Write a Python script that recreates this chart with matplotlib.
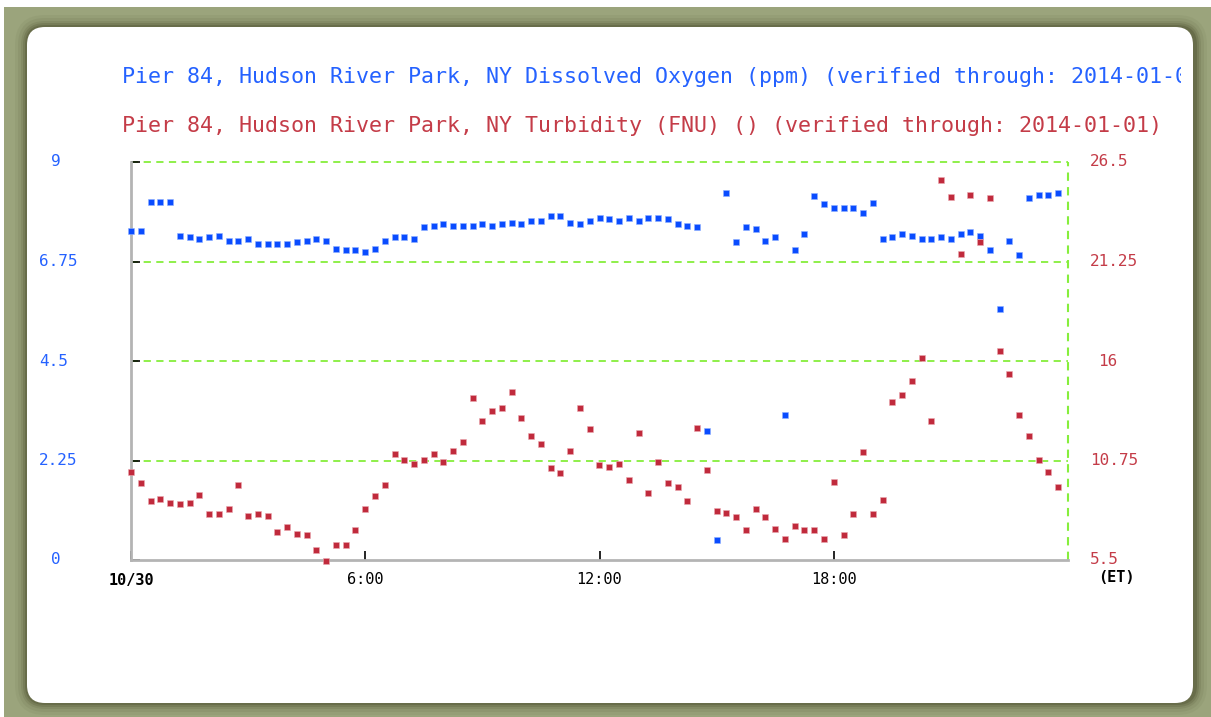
import matplotlib
matplotlib.use("Agg")
import matplotlib.pyplot as plt
from matplotlib.patches import FancyBboxPatch, Rectangle
import matplotlib.transforms as mtrans

# ---------------- data ----------------
# 15-minute readings over one day (hours since 10/30 00:00)
hours = [i * 0.25 for i in range(96)]

oxygen = [7.45, 7.45, 8.10, 8.10, 8.10, 7.33, 7.30, 7.26, 7.30, 7.33,
          7.22, 7.22, 7.26, 7.15, 7.15, 7.15, 7.15, 7.19, 7.22, 7.26,
          7.22, 7.04, 7.00, 7.00, 6.97, 7.04, 7.22, 7.30, 7.30, 7.26,
          7.52, 7.55, 7.59, 7.55, 7.55, 7.55, 7.59, 7.55, 7.59, 7.63,
          7.59, 7.67, 7.67, 7.78, 7.78, 7.63, 7.59, 7.67, 7.74, 7.71,
          7.67, 7.74, 7.67, 7.74, 7.74, 7.71, 7.59, 7.55, 7.52, 2.92,
          0.45, 8.29, 7.19, 7.52, 7.48, 7.22, 7.30, 3.29, 7.00, 7.37,
          8.22, 8.04, 7.96, 7.96, 7.96, 7.85, 8.07, 7.26, 7.30, 7.37,
          7.33, 7.26, 7.26, 7.30, 7.26, 7.37, 7.41, 7.33, 7.00, 5.68,
          7.22, 6.89, 8.18, 8.25, 8.25, 8.29]

turbidity = [10.16, 9.56, 8.61, 8.70, 8.52, 8.44, 8.52, 8.95, 7.93, 7.93,
             8.19, 9.47, 7.84, 7.93, 7.84, 6.98, 7.24, 6.89, 6.80, 6.03,
             5.45, 6.29, 6.29, 7.07, 8.19, 8.88, 9.47, 11.11, 10.76, 10.58,
             10.76, 11.11, 10.67, 11.27, 11.71, 14.03, 12.82, 13.35, 13.52, 14.38,
             12.99, 12.06, 11.62, 10.34, 10.07, 11.27, 13.52, 12.40, 10.50, 10.42,
             10.58, 9.72, 12.22, 9.04, 10.67, 9.55, 9.37, 8.61, 12.48, 10.25,
             8.09, 8.00, 7.75, 7.07, 8.17, 7.75, 7.15, 6.62, 7.31, 7.07,
             7.07, 6.62, 9.63, 6.80, 7.93, 11.18, 7.93, 8.68, 13.85, 14.19,
             14.96, 16.16, 12.82, 25.53, 24.67, 21.66, 24.76, 22.26, 24.58, 16.51,
             15.31, 13.15, 12.04, 10.76, 10.14, 9.37]

left_ticks = [0, 2.25, 4.5, 6.75, 9]
left_labels = ["0", "2.25", "4.5", "6.75", "9"]
right_ticks = [5.5, 10.75, 16, 21.25, 26.5]
right_labels = ["5.5", "10.75", "16", "21.25", "26.5"]
x_ticks = [0, 6, 12, 18]
x_labels = ["10/30", "6:00", "12:00", "18:00"]

title_do = "Pier 84, Hudson River Park, NY Dissolved Oxygen (ppm) (verified through: 2014-01-01)"
title_tb = "Pier 84, Hudson River Park, NY Turbidity (FNU) () (verified through: 2014-01-01)"

# ---------------- style ----------------
W, H = 1211, 717
BLUE = "#0a4cff"
BLUE_TXT = "#2562ff"
RED = "#c02a3c"
RED_TXT = "#c43c48"
GRID = "#86ee3c"
FONT = "DejaVu Sans Mono"

fig = plt.figure(figsize=(W / 100, H / 100), dpi=100)
fig.patch.set_facecolor("#9ba47c")

# background frame axes in pixel coordinates
bg = fig.add_axes([0, 0, 1, 1], zorder=0)
bg.set_xlim(0, W)
bg.set_ylim(H, 0)
bg.axis("off")
bg.add_patch(Rectangle((0, 0), W, 7, color="white", lw=0))
bg.add_patch(Rectangle((0, 0), 4, H, color="white", lw=0))
# soft shadow
for k, a in [(12, 0.06), (9, 0.08), (6, 0.12), (4, 0.18), (2, 0.26)]:
    bg.add_patch(FancyBboxPatch((27 - k, 27 - k), 1166 + 2 * k + 2, 676 + 2 * k,
                                boxstyle="round,pad=0,rounding_size=%d" % (18 + k),
                                fc="#3d4222", ec="none", alpha=a))
bg.add_patch(FancyBboxPatch((27, 27), 1166, 676,
                            boxstyle="round,pad=0,rounding_size=18",
                            fc="white", ec="none"))

# titles (clipped at the panel edge like the original)
tax = fig.add_axes([0, 0, 1181 / W, 1], zorder=1)
tax.set_xlim(0, 1181)
tax.set_ylim(H, 0)
tax.axis("off")
tax.text(122, 77, title_do, color=BLUE_TXT, fontsize=15.6, family=FONT,
         va="center", ha="left", clip_on=True)
tax.text(122, 126, title_tb, color=RED_TXT, fontsize=15.6, family=FONT,
         va="center", ha="left", clip_on=True)

# main axes
L, R, T, B = 131, 1068, 162, 560
ax = fig.add_axes([L / W, (H - B) / H, (R - L) / W, (B - T) / H], zorder=2)
ax.patch.set_alpha(0)
ax.set_xlim(0, 24)
ax.set_ylim(0, 9)
ax2 = ax.twinx()
ax2.set_ylim(5.5, 26.5)

for a in (ax, ax2):
    for s in ("top", "right"):
        a.spines[s].set_visible(False)
    a.spines["left"].set_visible(a is ax)
    a.spines["bottom"].set_visible(a is ax)
ax.spines["left"].set_color("#b4b4b4")
ax.spines["left"].set_linewidth(2)
ax.spines["bottom"].set_color("#b4b4b4")
ax.spines["bottom"].set_linewidth(2)

# grid
for v in left_ticks[1:]:
    ax.axhline(v, color=GRID, lw=1.3, ls=(0, (4, 3)), zorder=1, clip_on=False)
ax.axvline(24, color=GRID, lw=1.5, ls=(0, (4, 3)), zorder=1, clip_on=False)

# ticks
ax.set_yticks(left_ticks)
ax.set_yticklabels([])
ax.tick_params(axis="y", direction="in", length=6.5, width=1.2, color="black")
ax.set_xticks(x_ticks)
ax.set_xticklabels(x_labels, family=FONT, fontsize=11, color="black")
ax.get_xticklabels()[0].set_fontweight("bold")
ax.tick_params(axis="x", direction="in", length=6.5, width=1.2, color="black", pad=9)
ax2.set_yticks([])

# y tick labels as text (pixel x, data y)
tl = mtrans.blended_transform_factory(bg.transData, ax.transData)
for v, lab in zip(left_ticks, left_labels):
    x0 = 51 if "." not in lab else 39
    ax.text(x0, v, lab, transform=tl, color=BLUE_TXT, family=FONT,
            fontsize=11.5, va="center", ha="left", clip_on=False)
tr = mtrans.blended_transform_factory(bg.transData, ax2.transData)
for v, lab in zip(right_ticks, right_labels):
    x0 = 1098 if "." not in lab else 1090
    ax2.text(x0, v, lab, transform=tr, color=RED_TXT, family=FONT,
             fontsize=11.5, va="center", ha="left", clip_on=False)
ax.text(1098, 578, "(ET)", transform=bg.transData, family=FONT, fontsize=11,
        fontweight="bold", color="black", va="center", ha="left", clip_on=False)

# data
ax.plot(hours, oxygen, ls="none", marker="s", ms=4.4, mec="#8fb0ff", mew=0.4,
        mfc=BLUE, clip_on=False, zorder=3)
ax2.plot(hours, turbidity, ls="none", marker="s", ms=4.4, mec="#eaa8b0", mew=0.4,
         mfc=RED, clip_on=False, zorder=4)

fig.savefig("out.png", dpi=100, facecolor=fig.get_facecolor())
